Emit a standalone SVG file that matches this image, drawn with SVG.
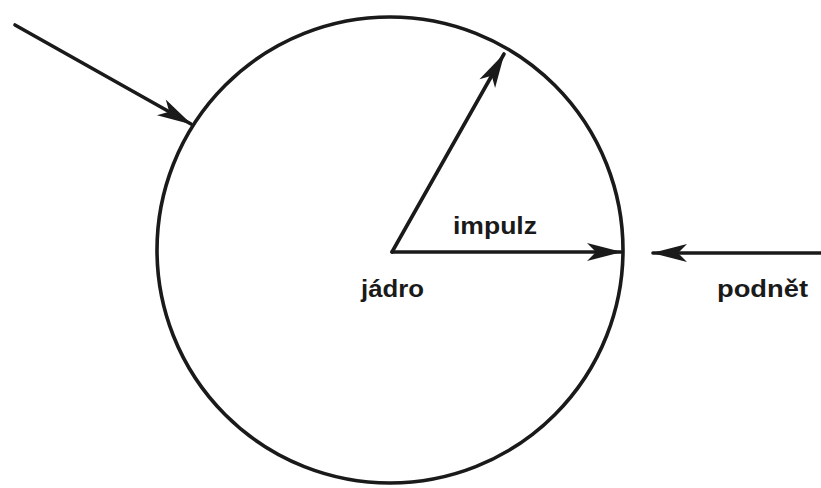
<svg xmlns="http://www.w3.org/2000/svg" width="821" height="488" viewBox="0 0 821 488">
  <style>
    .ln { fill: none; stroke: #1a1a1a; stroke-width: 3.6; stroke-linecap: round; }
    .lbl { font-family: "Liberation Sans", Arial, sans-serif; font-weight: bold; font-size: 23px; fill: #1a1a1a; }
  </style>
  <defs>
    <marker id="ah" markerUnits="userSpaceOnUse" markerWidth="40" markerHeight="30" viewBox="-36 -12 40 24" refX="0" refY="0" orient="auto">
      <path d="M1,0 L-34,-9 L-25,0 L-34,9 Z" fill="#1a1a1a"/>
    </marker>
  </defs>
  <rect width="821" height="488" fill="#ffffff"/>
  <g id="cell">
    <circle cx="390" cy="250" r="233" class="ln"/>
  </g>
  <g id="connectors">
    <line x1="15" y1="25" x2="191" y2="124" class="ln" marker-end="url(#ah)"/>
    <line x1="392" y1="252" x2="504" y2="54" class="ln" marker-end="url(#ah)"/>
    <line x1="392" y1="252" x2="621" y2="252" class="ln" marker-end="url(#ah)"/>
    <line x1="821" y1="253" x2="653" y2="253" class="ln" marker-end="url(#ah)"/>
  </g>
  <g id="labels">
    <text class="lbl" x="453" y="234" textLength="84" lengthAdjust="spacingAndGlyphs">impulz</text>
    <text class="lbl" x="361" y="297" textLength="63" lengthAdjust="spacingAndGlyphs">jádro</text>
    <text class="lbl" x="717" y="297" textLength="91" lengthAdjust="spacingAndGlyphs">podnět</text>
  </g>
</svg>
